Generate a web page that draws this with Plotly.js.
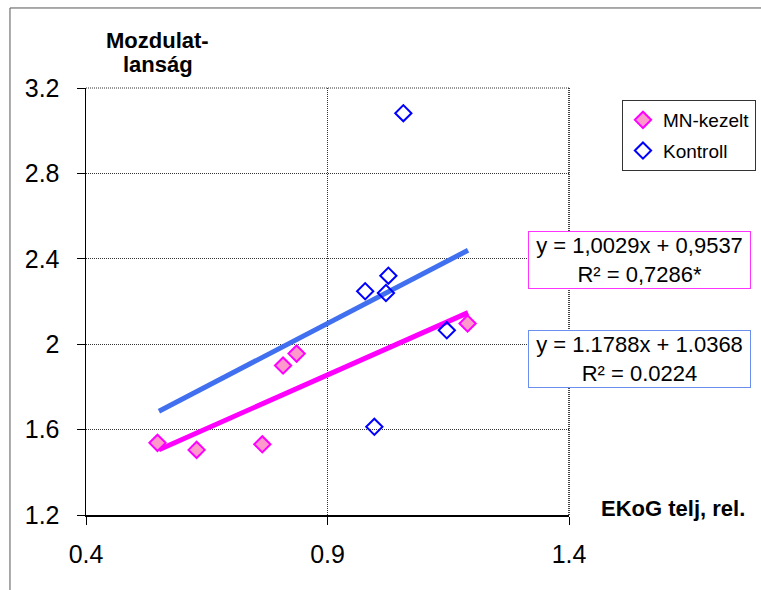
<!DOCTYPE html>
<html>
<head>
<meta charset="utf-8">
<script src="https://cdn.plot.ly/plotly-3.0.1.min.js"></script>
<style>html,body{margin:0;padding:0;background:#fff;}</style>
</head>
<body>
<div id="chart" style="width:761px;height:590px;"></div>
<script>
// Data
const mnX = [0.548, 0.629, 0.765, 0.808, 0.836, 1.190];
const mnY = [1.538, 1.505, 1.531, 1.900, 1.956, 2.097];
const koX = [0.978, 0.997, 1.021, 1.026, 1.057, 1.147];
const koY = [2.248, 1.613, 2.240, 2.321, 3.082, 2.065];

// Trendline end points as drawn in the reference
const trendX = [0.551, 1.191];
const mnTrendY = [1.506, 2.148];
const koTrendY = [1.686, 2.440];

const seriesNames = ['MN-kezelt', 'Kontroll'];
const mnEqText = ['y = 1,0029x + 0,9537', 'R² = 0,7286*'];
const koEqText = ['y = 1.1788x + 1.0368', 'R² = 0.0224'];

const xTickVals = [0.4, 0.9, 1.4];
const xTickText = ['0.4', '0.9', '1.4'];
const yTickVals = [1.2, 1.6, 2.0, 2.4, 2.8, 3.2];
const yTickText = ['1.2', '1.6', '2', '2.4', '2.8', '3.2'];

const yTitleLines = ['Mozdulat-', 'lanság'];
const xTitle = 'EKoG telj, rel.';

const FONT = 'Arial, "Liberation Sans", sans-serif';

const traces = [
  {
    x: trendX, y: mnTrendY, type: 'scatter', mode: 'lines',
    line: {color: '#ff00ff', width: 5}, showlegend: false, hoverinfo: 'skip'
  },
  {
    x: trendX, y: koTrendY, type: 'scatter', mode: 'lines',
    line: {color: '#4070f0', width: 5}, showlegend: false, hoverinfo: 'skip'
  },
  {
    x: mnX, y: mnY, type: 'scatter', mode: 'markers', name: seriesNames[0],
    legendgroup: 'a',
    marker: {symbol: 'diamond', size: 12.5, color: '#ff99cc', line: {color: '#ff00ff', width: 2}}
  },
  {
    x: koX, y: koY, type: 'scatter', mode: 'markers', name: seriesNames[1],
    legendgroup: 'b',
    marker: {symbol: 'diamond-open', size: 12.5, color: '#0000ff', line: {color: '#0000ff', width: 2}}
  }
];

const gridStyle = {gridcolor: '#333', gridwidth: 1, griddash: '1px,1px'};

const layout = {
  width: 761, height: 590,
  margin: {l: 86, r: 192, t: 88, b: 75, pad: 0},
  paper_bgcolor: '#fff', plot_bgcolor: '#fff',
  font: {family: FONT, color: '#000'},
  showlegend: true,
  legend: {
    xref: 'container', yref: 'container',
    x: 0.8173, y: 0.8305, xanchor: 'left', yanchor: 'top',
    bordercolor: '#333', borderwidth: 1, bgcolor: '#fff',
    font: {family: FONT, size: 19, color: '#000'},
    tracegroupgap: 3, traceorder: 'grouped'
  },
  xaxis: Object.assign({
    range: [0.4, 1.4], tickmode: 'array', tickvals: xTickVals, ticktext: xTickText,
    showline: true, linecolor: '#000', linewidth: 1.5,
    ticks: 'outside', ticklen: 8, tickcolor: '#000', tickwidth: 1,
    tickfont: {family: FONT, size: 25, color: '#000'},
    ticklabelstandoff: 8, showgrid: true, zeroline: false, fixedrange: true
  }, gridStyle),
  yaxis: Object.assign({
    range: [1.2, 3.2], tickmode: 'array', tickvals: yTickVals, ticktext: yTickText,
    showline: true, linecolor: '#000', linewidth: 1.5,
    ticks: 'outside', ticklen: 8, tickcolor: '#000', tickwidth: 1,
    tickfont: {family: FONT, size: 25, color: '#000'},
    ticklabelstandoff: 12, showgrid: true, zeroline: false, fixedrange: true
  }, gridStyle),
  shapes: [
    // outer chart border (left and top edges visible)
    {type: 'rect', xref: 'paper', yref: 'paper', x0: -0.1574, x1: 2, y0: -1, y1: 1.1874,
     line: {color: '#555', width: 1}, fillcolor: 'rgba(0,0,0,0)', layer: 'below'},
    // right edge of plot area, dotted
    {type: 'line', xref: 'paper', yref: 'paper', x0: 1, x1: 1, y0: 0, y1: 1,
     line: {color: '#444', width: 2, dash: '1px,1px'}},
    {type: 'line', xref: 'paper', yref: 'paper', x0: 0, x1: 1, y0: 1, y1: 1,
     line: {color: '#333', width: 1, dash: '1px,1px'}}
  ],
  annotations: [
    {text: '<b>' + yTitleLines[0] + '</b>', xref: 'paper', yref: 'paper', x: 0.149, y: 1.1101,
     xanchor: 'center', yanchor: 'middle', showarrow: false,
     font: {family: FONT, size: 22, color: '#000'}},
    {text: '<b>' + yTitleLines[1] + '</b>', xref: 'paper', yref: 'paper', x: 0.149, y: 1.0550,
     xanchor: 'center', yanchor: 'middle', showarrow: false,
     font: {family: FONT, size: 22, color: '#000'}},
    {text: '<b>' + xTitle + '</b>', xref: 'paper', yref: 'paper', x: 1.3685, y: 0.0148,
     xanchor: 'right', yanchor: 'middle', showarrow: false,
     font: {family: FONT, size: 22, color: '#000'}},
    {text: mnEqText.join('<br>'), xref: 'paper', yref: 'paper', x: 1.1466, y: 0.5972,
     xanchor: 'center', yanchor: 'middle', showarrow: false, align: 'center',
     width: 219, height: 54, borderpad: 1, borderwidth: 1, bordercolor: '#ff33ff', bgcolor: '#fff',
     font: {family: FONT, size: 22, color: '#000'}},
    {text: koEqText.join('<br>'), xref: 'paper', yref: 'paper', x: 1.1466, y: 0.3665,
     xanchor: 'center', yanchor: 'middle', showarrow: false, align: 'center',
     width: 219, height: 54, borderpad: 1, borderwidth: 1, bordercolor: '#6a8ff0', bgcolor: '#fff',
     font: {family: FONT, size: 22, color: '#000'}}
  ]
};

Plotly.newPlot('chart', traces, layout, {displayModeBar: false, staticPlot: true});
</script>
</body>
</html>
